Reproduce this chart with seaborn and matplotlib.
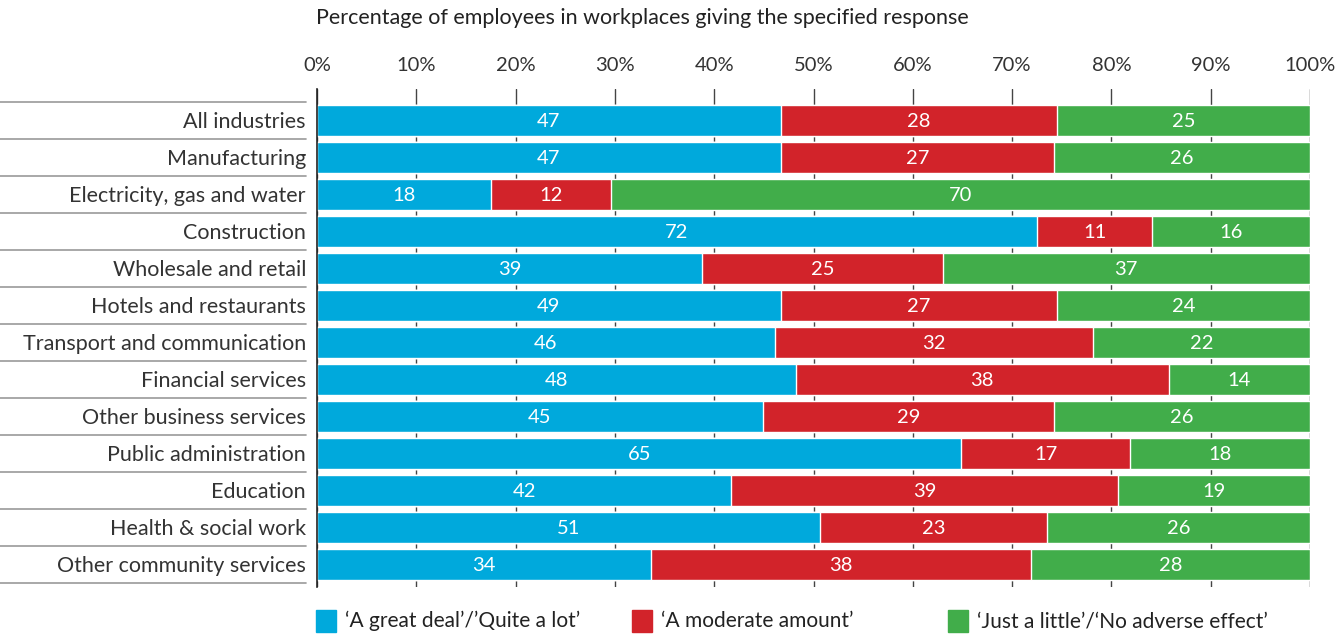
import numpy as np
import pandas as pd
import seaborn as sns
import matplotlib.pyplot as plt
from matplotlib.patches import Rectangle
from matplotlib.transforms import blended_transform_factory

industries = [
    "All industries", "Manufacturing", "Electricity, gas and water", "Construction",
    "Wholesale and retail", "Hotels and restaurants", "Transport and communication",
    "Financial services", "Other business services", "Public administration",
    "Education", "Health & social work", "Other community services",
]
# segment widths as drawn in the picture
great_deal = [46.7, 46.7, 17.5, 72.5, 38.8, 46.7, 46.1, 48.2, 44.9, 64.9, 41.7, 50.7, 33.6]
moderate = [27.8, 27.5, 12.1, 11.6, 24.2, 27.8, 32.0, 37.6, 29.3, 17.0, 39.0, 22.8, 38.3]
just_little = [25.5, 25.8, 70.4, 15.9, 37.0, 25.5, 21.9, 14.2, 25.8, 18.1, 19.3, 26.5, 28.1]
# printed labels
great_labels = [47, 47, 18, 72, 39, 49, 46, 48, 45, 65, 42, 51, 34]
moderate_labels = [28, 27, 12, 11, 25, 27, 32, 38, 29, 17, 39, 23, 38]
little_labels = [25, 26, 70, 16, 37, 24, 22, 14, 26, 18, 19, 26, 28]

series_names = ["\u2018A great deal\u2019/\u2019Quite a lot\u2019",
                "\u2018A moderate amount\u2019",
                "\u2018Just a little\u2019/\u2018No adverse effect\u2019"]
colors = ["#00A9DC", "#D2232A", "#41AD4A"]

sns.set_style("white")
plt.rcParams["font.family"] = ["Lato", "DejaVu Sans"]

df = pd.DataFrame({
    "industry": industries,
    "great": great_deal,
    "moderate": moderate,
    "little": just_little,
})
df["c1"] = df["great"]
df["c2"] = df["great"] + df["moderate"]
df["c3"] = df["c2"] + df["little"]

W, H = 1338, 637
fig = plt.figure(figsize=(W / 100, H / 100), dpi=100)
ax = fig.add_axes([317 / W, 1 - 587 / H, 993 / W, 498 / H])

for col, c in zip(["c3", "c2", "c1"], colors[::-1]):
    sns.barplot(data=df, x=col, y="industry", color=c, width=0.84,
                orient="h", ax=ax, saturation=1, zorder=2)

starts = [np.zeros(len(df)), df["c1"].values, df["c2"].values]
widths = [df["great"].values, df["moderate"].values, df["little"].values]
labels = [great_labels, moderate_labels, little_labels]
for s, w, lab in zip(starts, widths, labels):
    for i in range(len(df)):
        ax.text(s[i] + w[i] / 2, i + 0.02, str(lab[i]), color="white", ha="center",
                va="center", fontsize=14.5, zorder=3)

ax.set_xlim(0, 100)
ax.set_ylim(12.61, -0.85)
ax.set_xticks(np.arange(0, 101, 10))
ax.set_xticklabels([f"{v}%" for v in range(0, 101, 10)], fontsize=14.5, color="#333333")
ax.xaxis.tick_top()
ax.tick_params(axis="x", length=0, pad=11)
ax.tick_params(axis="y", length=0, pad=8, labelsize=15.5, labelcolor="#333333")
for t in ax.get_yticklabels():
    t.set_va("center_baseline")
ax.set_xlabel("")
ax.set_ylabel("")
ax.grid(axis="x", color="#444444", linewidth=1, zorder=0)
ax.set_axisbelow(True)
for side in ["top", "right", "bottom"]:
    ax.spines[side].set_visible(False)
ax.spines["left"].set_color("#222222")
ax.spines["left"].set_linewidth(1.2)

# row separators in the label column
trans = blended_transform_factory(ax.transAxes, ax.transData)
for y in np.arange(-0.5, len(df), 1.0):
    ax.plot([-317 / 993, -11 / 993], [y, y], color="#999999", lw=1.2,
            transform=trans, clip_on=False)

fig.text(316 / W, 1 - 18 / H, "Percentage of employees in workplaces giving the specified response",
         fontsize=15.5, color="#222222", ha="left", va="center")

# legend
leg_x = [316, 632, 948]
for x, c, name in zip(leg_x, colors, series_names):
    fig.patches.append(Rectangle((x / W, 1 - 632 / H), 20 / W, 22 / H,
                                 transform=fig.transFigure, color=c))
    fig.text((x + 29) / W, 1 - 621 / H, name, fontsize=15, color="#222222",
             ha="left", va="center")

fig.savefig("out.png", dpi=100)
